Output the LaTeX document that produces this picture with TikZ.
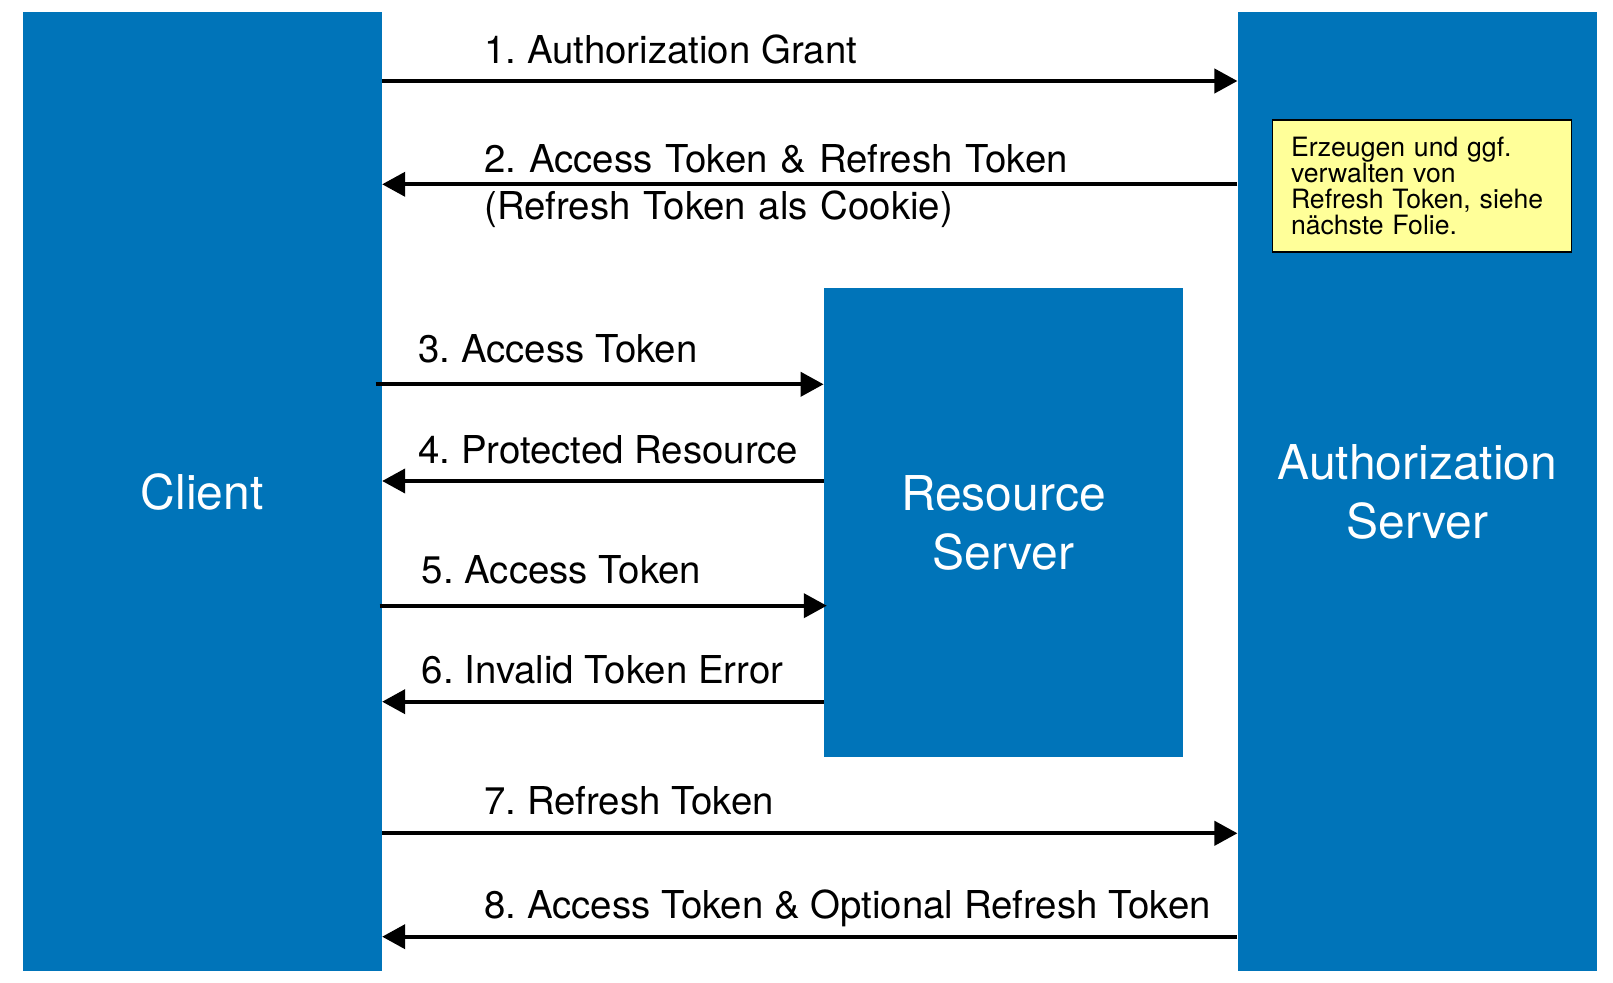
\documentclass[tikz,border=0pt]{standalone}
\usepackage{fontspec}
\setmainfont{TeX Gyre Heros}
\usetikzlibrary{arrows.meta,positioning}
\definecolor{slideblue}{RGB}{0,116,185}
\definecolor{noteyellow}{RGB}{255,255,153}
\frenchspacing

\begin{document}
\begin{tikzpicture}[
  x=0.5pt, y=-0.5pt,
  party/.style={fill=slideblue, text=white, inner sep=0pt, align=center, font=\fontsize{24}{29.5}\selectfont},
  msg/.style={-{Triangle[length=11.5pt, width=12pt]}, line width=2pt, draw=black},
  lbl/.style={anchor=base west, inner sep=0pt, font=\fontsize{19.2}{23.5}\selectfont},
  hint/.style={draw, line width=0.75pt, fill=noteyellow, inner xsep=9.3pt, inner ysep=0pt,
    text width=131pt, align=left, minimum height=65.85pt, font=\fontsize{13.3}{12.9}\selectfont}
]
\useasboundingbox[fill=white] (0,0) rectangle (1613,983);

\node[party, minimum width=179.6pt, minimum height=479.35pt] (client) at (202.15,491.65) {Client};
\node[party, minimum width=179.6pt, minimum height=479.35pt] (authsrv) at (1417.45,491.65) {Authorization\\Server};
\node[party, minimum width=179.35pt, minimum height=234.8pt] (ressrv) at (1003.35,522.5) {Resource\\Server};

\node[hint] (hint) at (1422,186) {Erzeugen und ggf.\\verwalten von\\Refresh Token, siehe\\nächste Folie.};

% grant and tokens
\draw[msg] (client.east |- 0,81) -- (authsrv.west |- 0,81);
\node[lbl] (l1) at (484,63.3) {1. Authorization Grant};
\draw[msg] (authsrv.west |- 0,184.3) -- (client.east |- 0,184.3);
\node[lbl, text width=300pt] (l2) at (484,173) {2. Access Token \& Refresh Token\\(Refresh Token als Cookie)};

% resource requests
\draw[msg, shorten <=-3.3pt] (client.east |- 0,384.3) -- (ressrv.west |- 0,384.3);
\node[lbl] (l3) at (418,362.7) {3. Access Token};
\draw[msg] (ressrv.west |- 0,481) -- (client.east |- 0,481);
\node[lbl] (l4) at (418,463.3) {4. Protected Resource};
\draw[msg, shorten <=-1.3pt, shorten >=-1.6pt] (client.east |- 0,605.7) -- (ressrv.west |- 0,605.7);
\node[lbl] (l5) at (421.5,583.3) {5. Access Token};
\draw[msg] (ressrv.west |- 0,701.7) -- (client.east |- 0,701.7);
\node[lbl] (l6) at (421.5,683.3) {6. Invalid Token Error};

% refresh
\draw[msg] (client.east |- 0,833.3) -- (authsrv.west |- 0,833.3);
\node[lbl] (l7) at (484,815) {7. Refresh Token};
\draw[msg] (authsrv.west |- 0,936.7) -- (client.east |- 0,936.7);
\node[lbl] (l8) at (484,918.3) {8. Access Token \& Optional Refresh Token};

\end{tikzpicture}
\end{document}
